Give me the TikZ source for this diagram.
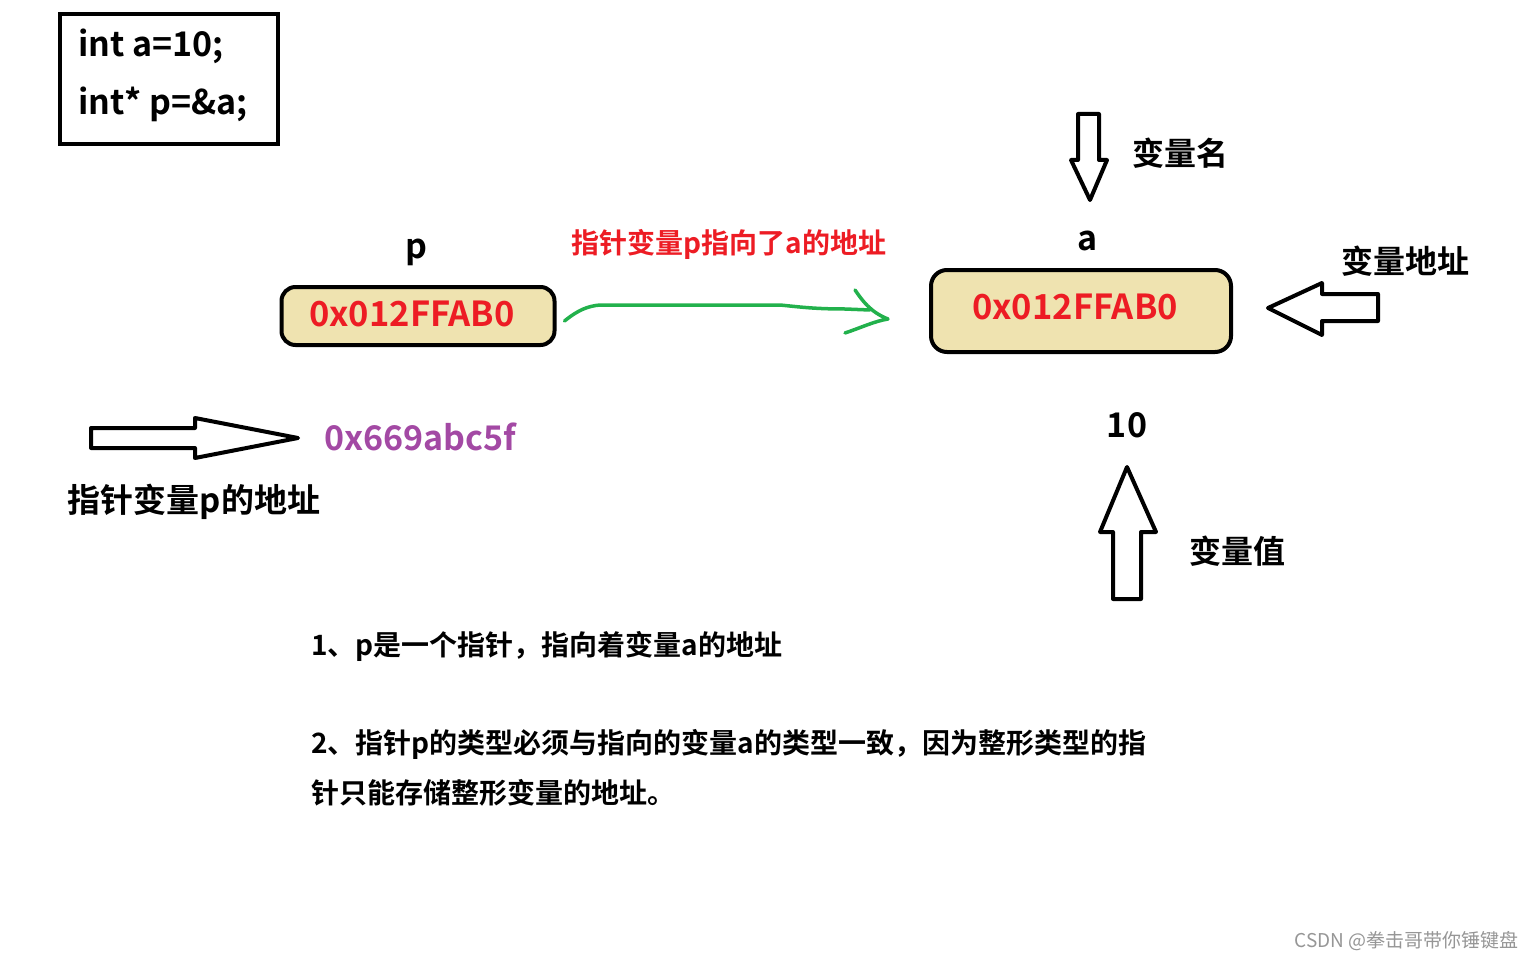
\documentclass[tikz,border=0pt]{standalone}
\usepackage{fontspec}
\setmainfont{Noto Sans CJK SC}
\newfontfamily\cjkb{Noto Sans CJK SC Bold}
\definecolor{boxfill}{RGB}{239,227,176}
\definecolor{addrred}{RGB}{237,28,36}
\definecolor{arrgreen}{RGB}{34,177,76}
\definecolor{purp}{RGB}{163,73,164}
\definecolor{wm}{RGB}{150,150,150}
\newcommand{\fs}[1]{\fontsize{#1}{#1}\selectfont}
\tikzset{
  lbl/.style={inner sep=0pt, font=\cjkb\fs{32}},
  membox/.style={draw, line width=4pt, fill=boxfill, rounded corners=14pt, inner sep=0pt},
  addr/.style={inner sep=0pt, text=addrred, font=\cjkb\fs{34.5}},
  blockarrow/.style={draw, line width=4pt, fill=white, line join=round},
  note/.style={inner sep=0pt, anchor=west, font=\cjkb\fs{28}},
}
\begin{document}
\begin{tikzpicture}[x=1pt,y=-1pt]
\useasboundingbox (0,0) rectangle (1536,960);
\fill[white] (0,0) rectangle (1536,960);
% code box
\node[draw, line width=4pt, minimum width=218pt, minimum height=130pt, inner sep=0pt] (code) at (169,79) {};
\node[lbl, anchor=west, font=\cjkb\fs{34}] (c1) at (78,46) {int a=10;};
\node[lbl, anchor=west, font=\cjkb\fs{34}] (c2) at (78,104) {int* p=\&a;};
% p
\node[lbl, font=\cjkb\fs{34}] (plabel) at (416,252) {p};
\node[membox, minimum width=273pt, minimum height=58pt] (pbox) at (418,316) {};
\node[addr] (pval) at (412,314) {0x012FFAB0};
% red caption
\node[inner sep=0pt, text=addrred, font=\cjkb\fs{28}] (cap) at (729,244) {指针变量p指向了a的地址};
% a
\node[lbl, font=\cjkb\fs{34}] (alabel) at (1088,241) {a};
\node[membox, minimum width=300pt, minimum height=82pt, rounded corners=16pt] (abox) at (1081,311) {};
\node[addr] (aval) at (1075,307) {0x012FFAB0};
% green arrow
\coordinate (gend) at (888,319);
\draw[arrgreen, line width=3.5pt, line cap=round, line join=round]
  ([xshift=8pt,yshift=-5pt]pbox.east) .. controls (578,310) and (588,306) .. (600,305)
  -- (780,305) .. controls (800,307) and (815,309) .. (845,309) -- (870,310);
\draw[arrgreen, line width=3.5pt, line cap=round, line join=round]
  (855,290) .. controls (862,300) and (870,312) .. (gend) .. controls (875,321) and (860,328) .. (845,333);
% down arrow (variable name)
\draw[blockarrow] (1078,114) -- (1099,114) -- (1099,160) -- (1107,160) -- (1090,200) -- (1071,160) -- (1078,160) -- cycle;
\node[lbl] (vname) at (1180,153) {变量名};
% left arrow (variable address)
\draw[blockarrow] (1378,294) -- (1322,294) -- (1322,283) -- (1268,308) -- (1322,335) -- (1322,321) -- (1378,321) -- cycle;
\node[lbl] (vaddr) at (1405,261) {变量地址};
% right arrow (pointer address)
\draw[blockarrow] (91,428) -- (195,428) -- (195,418) -- (298,438) -- (195,458) -- (195,448) -- (91,448) -- cycle;
\node[inner sep=0pt, text=purp, font=\cjkb\fs{34}] (paddr) at (420,437) {0x669abc5f};
\node[lbl, font=\cjkb\fs{33}] (paddrlbl) at (194,502) {指针变量p的地址};
% value
\node[lbl, font=\cjkb\fs{34}] (val) at (1127,425) {10};
\draw[blockarrow] (1127,467) -- (1156,532) -- (1141,532) -- (1141,599) -- (1113,599) -- (1113,532) -- (1100,532) -- cycle;
\node[lbl] (vval) at (1237,551) {变量值};
% notes
\node[note] (n1) at (311,646) {1、p是一个指针，指向着变量a的地址};
\node[note] (n2) at (311,744) {2、指针p的类型必须与指向的变量a的类型一致，因为整形类型的指};
\node[note] (n3) at (311,793) {针只能存储整形变量的地址。};
% watermark
\node[inner sep=0pt, anchor=east, text=wm, font=\fs{19}] (wmk) at (1519,941) {CSDN @拳击哥带你锤键盘};
\end{tikzpicture}
\end{document}
